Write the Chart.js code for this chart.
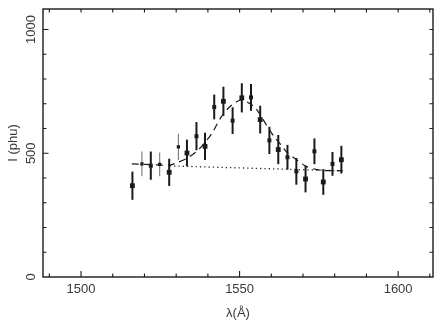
<!DOCTYPE html>
<html>
<head>
<meta charset="utf-8">
<script src="https://cdn.jsdelivr.net/npm/chart.js@4.4.1/dist/chart.umd.min.js"></script>
<style>
  html, body { margin:0; padding:0; background:#fff; }
  #wrap { width:440px; height:325px; }
</style>
</head>
<body>
<div id="wrap"><canvas id="spec" width="440" height="325"></canvas></div>
<script>
// measured points (wavelength in A, intensity in phu, 1-sigma error)
const lambda = [1516.2, 1519.2, 1522.0, 1524.8, 1527.8, 1530.7, 1533.4, 1536.4, 1539.1, 1542.0, 1544.9, 1547.8,
                1550.7, 1553.6, 1556.5, 1559.4, 1562.2, 1565.1, 1567.9, 1570.8, 1573.6, 1576.4, 1579.3, 1582.1];
const flux   = [369, 457, 450, 455, 423, 526, 501, 569, 528, 687, 710, 632,
                724, 726, 636, 552, 515, 484, 427, 396, 508, 384, 457, 474];
const sigma  = [57, 50, 57, 48, 55, 53, 54, 57, 55, 50, 59, 54,
                59, 54, 56, 55, 59, 50, 54, 54, 52, 52, 48, 56];

// dashed line fit (gaussian on continuum)
const fitLambda = [1516, 1520, 1524, 1528, 1530, 1533, 1536.5, 1539, 1541.5, 1544, 1546.5, 1548.5, 1550.5,
                   1552.5, 1555, 1557, 1559, 1561, 1563, 1565, 1568, 1571, 1574, 1577, 1580, 1582.5];
const fitFlux   = [457, 455, 453, 452, 461, 477, 508, 542, 585, 643, 683, 704, 716,
                   706, 683, 645, 603, 565, 535, 503, 474, 447, 435, 430, 430, 429];

// dotted continuum
const contLambda = [1528, 1582.5];
const contFlux   = [449, 429];

const xTickVals = [1500, 1550, 1600];
const yTickVals = [0, 500, 1000];

// marker look per point (style only)
const markerSize = [3.4, 2.3, 2.8, 2.3, 3.4, 2.3, 3.4, 2.8, 3.4, 2.8, 3.4, 2.8,
                    3.4, 2.8, 3.4, 2.8, 3.4, 2.8, 2.8, 3.4, 2.8, 3.4, 2.8, 3.4];
const thinBar = [false, true, false, true, false, true];

const INK = '#1a1a1a';
const FONT = '"Liberation Sans", Arial, sans-serif';

const frameTicks = {
  id: 'frameTicks',
  beforeDatasetsDraw(chart){
    const {ctx, scales:{x, y}} = chart;
    ctx.save();
    lambda.forEach((l, i) => {
      const px = x.getPixelForValue(l);
      ctx.beginPath();
      ctx.moveTo(px, y.getPixelForValue(flux[i] - sigma[i]));
      ctx.lineTo(px, y.getPixelForValue(flux[i] + sigma[i]));
      if(thinBar[i]){ ctx.strokeStyle = '#777'; ctx.lineWidth = 1.1; }
      else { ctx.strokeStyle = INK; ctx.lineWidth = 2; }
      ctx.stroke();
    });
    ctx.restore();
  },
  afterDraw(chart){
    const {ctx, chartArea:a, scales:{x, y}} = chart;
    ctx.save();
    ctx.strokeStyle = INK;
    ctx.lineWidth = 1.4;
    ctx.strokeRect(a.left, a.top, a.right - a.left, a.bottom - a.top);

    ctx.lineWidth = 1.1;
    ctx.beginPath();
    for(let v = 1490; v <= x.max; v += 10){
      const px = x.getPixelForValue(v);
      const major = xTickVals.includes(v);
      ctx.moveTo(px, a.bottom); ctx.lineTo(px, a.bottom - (major ? 6 : 3.5));
      ctx.moveTo(px, a.top);    ctx.lineTo(px, a.top + 3.5);
    }
    for(let v = 100; v <= y.max; v += 100){
      const py = y.getPixelForValue(v);
      const major = yTickVals.includes(v);
      ctx.moveTo(a.left, py);  ctx.lineTo(a.left + (major ? 5.5 : 3.5), py);
      ctx.moveTo(a.right, py); ctx.lineTo(a.right - 3.5, py);
    }
    ctx.stroke();

    // y tick labels, turned like the original
    ctx.fillStyle = '#3a3a3a';
    ctx.font = '13px ' + FONT;
    ctx.textAlign = 'center';
    ctx.textBaseline = 'middle';
    yTickVals.forEach(v => {
      ctx.save();
      ctx.translate(31, y.getPixelForValue(v));
      ctx.rotate(-Math.PI / 2);
      ctx.fillText(String(v), 0, 0);
      ctx.restore();
    });
    ctx.restore();
  }
};

new Chart(document.getElementById('spec'), {
  type: 'scatter',
  data: {
    datasets: [
      {
        data: lambda.map((l, i) => ({x: l, y: flux[i]})),
        pointStyle: 'rect',
        pointRadius: markerSize,
        backgroundColor: INK,
        borderColor: INK,
        borderWidth: 0,
        showLine: false,
        order: 0
      },
      {
        data: fitLambda.map((l, i) => ({x: l, y: fitFlux[i]})),
        showLine: true,
        pointRadius: 0,
        borderColor: INK,
        borderWidth: 1.2,
        borderDash: [7, 5],
        tension: 0.3,
        order: 1
      },
      {
        data: contLambda.map((l, i) => ({x: l, y: contFlux[i]})),
        showLine: true,
        pointRadius: 0,
        borderColor: '#333',
        borderWidth: 1.3,
        borderDash: [1.3, 3],
        order: 2
      }
    ]
  },
  options: {
    responsive: false,
    animation: false,
    devicePixelRatio: 1,
    layout: { padding: { top: 9, right: 7, left: 0, bottom: 0 } },
    plugins: { legend: { display: false }, tooltip: { enabled: false } },
    scales: {
      x: {
        type: 'linear',
        min: 1488,
        max: 1611,
        grid: { display: false, drawTicks: false },
        border: { display: false },
        afterBuildTicks: s => { s.ticks = xTickVals.map(v => ({value: v})); },
        afterFit: s => { s.height = 48; },
        ticks: { padding: 5, color: '#3a3a3a', font: { family: FONT, size: 13 }, maxRotation: 0, callback: v => String(v) },
        title: { display: true, text: 'λ(Å)', color: '#3a3a3a', padding: { top: 0, bottom: 4 }, font: { family: FONT, size: 13 } }
      },
      y: {
        type: 'linear',
        min: 0,
        max: 1083,
        grid: { display: false, drawTicks: false },
        border: { display: false },
        ticks: { display: false },
        afterFit: s => { s.width = 43; },
        title: { display: true, text: 'I (phu)', color: '#3a3a3a', padding: { top: 6, bottom: 0 }, font: { family: FONT, size: 13 } }
      }
    }
  },
  plugins: [frameTicks]
});
</script>
</body>
</html>
